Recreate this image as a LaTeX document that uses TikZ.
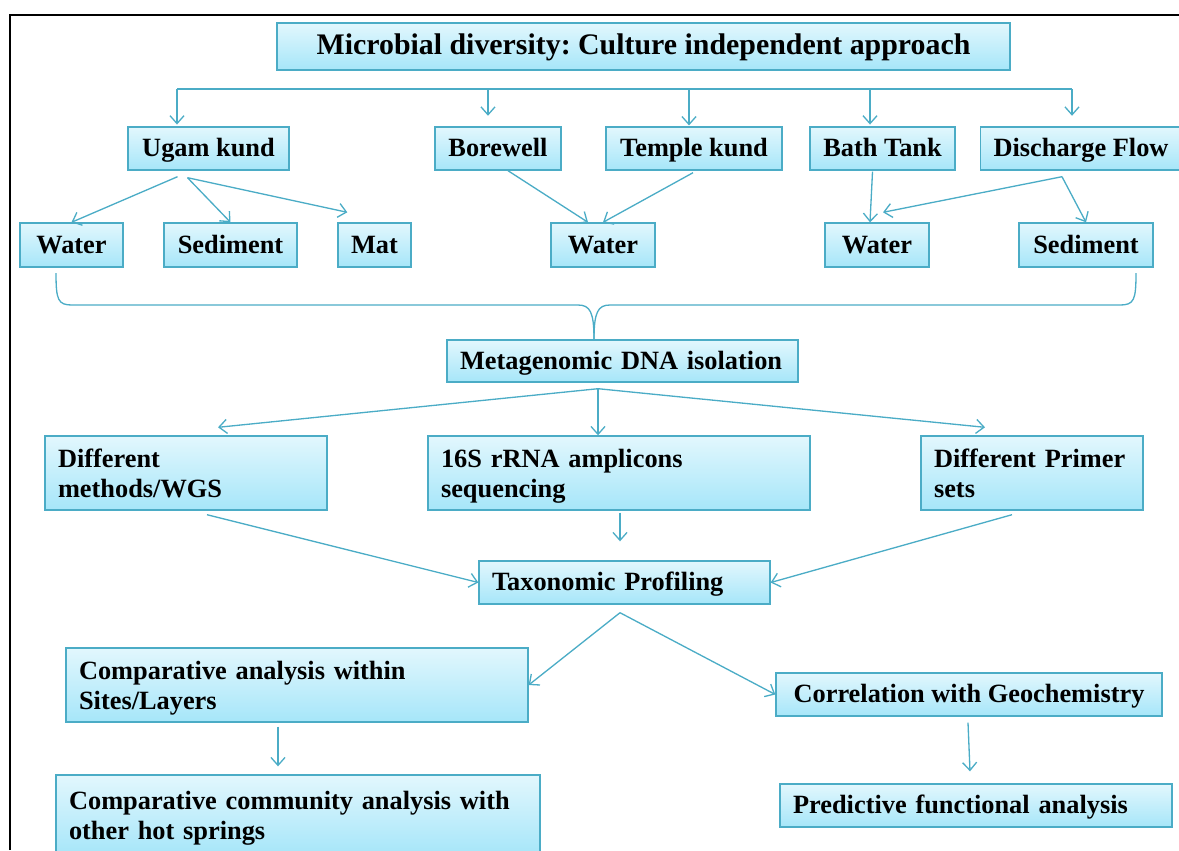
\documentclass[tikz,border=0pt]{standalone}
\usepackage{fontspec}
\setmainfont{Liberation Serif}
\usetikzlibrary{calc,shadows,arrows.meta}

\definecolor{boxline}{HTML}{4BACC6}
\definecolor{boxtop}{HTML}{E2F7FD}
\definecolor{boxbot}{HTML}{A6E6F9}

\tikzset{
  box/.style={rectangle, draw=boxline, line width=0.8pt, top color=boxtop, bottom color=boxbot,
    inner xsep=0.26cm, inner ysep=0pt, font=\fontsize{15}{17.4}\selectfont\bfseries,
    drop shadow={opacity=0.25, shadow xshift=0.6pt, shadow yshift=-0.8pt}},
  cbox/.style={box, text height=1.1em, text depth=0.16em},
  lbox/.style={box, align=left, text height=10.5pt, text depth=17.2pt},
  conn/.style={draw=boxline, line width=0.75pt},
  arr/.style={conn, -{Straight Barb[length=4.5pt,width=8pt]}}
}

\begin{document}
\frenchspacing
\begin{tikzpicture}[x=0.02cm, y=0.02cm]
    \useasboundingbox (0,0) rectangle (1179,-850);

    % Frame
    \draw[line width=1.1pt] (10,-850) -- (10,-15) -- (1179,-15);

    % Title
    \node[cbox, minimum width=14.66cm, minimum height=0.94cm,
          font=\fontsize{17}{20}\selectfont\bfseries] (title) at (643.5,-46.5)
          {Microbial diversity: Culture independent approach};

    % Sites
    \node[cbox, minimum width=3.22cm, minimum height=0.86cm] (ugam) at (208.5,-148.5) {Ugam kund};
    \node[cbox, minimum width=2.52cm, minimum height=0.86cm] (bore) at (498,-148.5) {Borewell};
    \node[cbox, minimum width=3.52cm, minimum height=0.86cm] (temple) at (694,-148.5) {Temple kund};
    \node[cbox, minimum width=2.90cm, minimum height=0.86cm] (bath) at (882.5,-148.5) {Bath Tank};
    \node[cbox, minimum width=4.00cm, minimum height=0.86cm] (disch) at (1081,-148.5) {Discharge Flow};

    % Samples
    \node[cbox, minimum width=2.06cm, minimum height=0.88cm] (waterA) at (71.5,-245) {Water};
    \node[cbox, minimum width=2.66cm, minimum height=0.88cm] (sedA) at (230.5,-245) {Sediment};
    \node[cbox, minimum width=1.46cm, minimum height=0.88cm] (mat) at (374.5,-245) {Mat};
    \node[cbox, minimum width=2.08cm, minimum height=0.88cm] (waterB) at (603,-245) {Water};
    \node[cbox, minimum width=2.08cm, minimum height=0.88cm] (waterC) at (877,-245) {Water};
    \node[cbox, minimum width=2.68cm, minimum height=0.88cm] (sedC) at (1086,-245) {Sediment};

    % Processing
    \node[cbox, align=left, text width=6.50cm, minimum height=0.84cm] (meta) at (622.5,-361) {Metagenomic DNA isolation};
    \node[lbox, text width=5.12cm, minimum height=1.48cm] (wgs) at (186,-473) {Different\\methods/WGS};
    \node[lbox, text width=7.12cm, minimum height=1.48cm] (amp) at (619,-473) {16S rRNA amplicons\\sequencing};
    \node[lbox, text width=3.92cm, minimum height=1.48cm] (primer) at (1032,-473) {Different Primer\\sets};
    \node[cbox, align=left, text width=5.30cm, minimum height=0.86cm] (taxo) at (624.5,-582.5) {Taxonomic Profiling};

    % Analyses
    \node[lbox, text width=8.72cm, minimum height=1.48cm] (compA) at (297,-685) {Comparative analysis within\\Sites/Layers};
    \node[cbox, minimum width=7.72cm, minimum height=0.86cm] (geo) at (969,-694.5) {Correlation with Geochemistry};
    \node[lbox, text width=9.16cm, minimum height=1.60cm] (compB) at (298,-815) {Comparative community analysis with\\other hot springs};
    \node[cbox, align=left, text width=7.32cm, minimum height=0.86cm] (pred) at (976,-805.5) {Predictive functional analysis};

    % Title to sites
    \draw[conn] (177,-89) -- (1072,-89);
    \foreach \n/\x/\s in {ugam/177/1pt, bore/488/6pt, temple/689/0.5pt, bath/870/1pt, disch/1072/6pt}
        \draw[arr, shorten >=\s] (\x,-89) -- (\n.north -| \x,0);

    % Sites to samples
    \draw[arr] ($(ugam.south)+(-31,-6)$) -- (waterA.north);
    \draw[arr] ($(ugam.south)+(-21,-7)$) -- (sedA.north);
    \draw[arr] ($(ugam.south)+(-21,-7)$) -- ($(mat.north west)+(10,10)$);
    \draw[arr] ($(bore.south)+(10,0)$) -- ($(waterB.north)+(-15,0)$);
    \draw[arr] ($(temple.south)+(-1,-2)$) -- (waterB.north);
    \draw[arr] ($(bath.south)+(-10,-1)$) -- ($(waterC.north)+(-7,0)$);
    \draw[arr] ($(disch.south)+(-19,-6)$) -- ($(waterC.north)+(6,10)$);
    \draw[arr] ($(disch.south)+(-19,-6)$) -- (sedC.north);

    % Samples to DNA isolation
    \coordinate (braceL) at (56,-273);
    \coordinate (braceR) at (1136,-273);
    \draw[conn] (braceL) .. controls (56,-300) and (58,-305) .. (72,-305) -- (578,-305)
        .. controls (590,-305) and (594,-312) .. ($(meta.north)+(-28.5,0)$);
    \draw[conn] (braceR) .. controls (1136,-300) and (1134,-305) .. (1120,-305) -- (610,-305)
        .. controls (598,-305) and (594,-312) .. ($(meta.north)+(-28.5,0)$);

    % DNA isolation to methods
    \draw[arr] ($(meta.south)+(-24.5,-6)$) -- ($(wgs.north)+(32,8)$);
    \draw[arr] ($(meta.south)+(-24.5,-6)$) -- ($(amp.north)+(-21,0)$);
    \draw[arr] ($(meta.south)+(-24.5,-6)$) -- ($(primer.north)+(-47,8)$);

    % Methods to profiling
    \draw[arr] ($(wgs.south)+(21,-4)$) -- (taxo.west);
    \draw[arr] ($(amp.south)+(1,-2)$) -- ($(taxo.north)+(-4.5,19)$);
    \draw[arr] ($(primer.south)+(-20,-4)$) -- (taxo.east);

    % Profiling to analyses
    \draw[arr] ($(taxo.south)+(-4.5,-8)$) -- (compA.east);
    \draw[arr] ($(taxo.south)+(-4.5,-8)$) -- (geo.west);
    \draw[arr] ($(compA.south)+(-19,-4)$) -- ($(compB.north)+(-20,8)$);
    \draw[arr] ($(geo.south)+(-1,-6)$) -- ($(pred.north)+(-6,12)$);
\end{tikzpicture}
\end{document}
